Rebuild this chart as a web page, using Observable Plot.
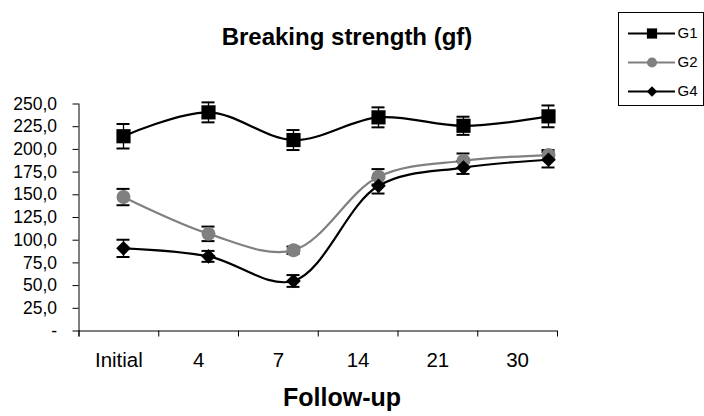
<!DOCTYPE html>
<html>
<head>
<meta charset="utf-8">
<script src="https://cdn.jsdelivr.net/npm/d3@7"></script>
<script src="https://cdn.jsdelivr.net/npm/@observablehq/plot@0.6"></script>
<style>
  html, body { margin: 0; padding: 0; background: #fff; }
  #chart { position: relative; width: 704px; height: 416px; font-family: "Liberation Sans", Arial, sans-serif; overflow: hidden; }
  #chart > * { position: absolute; }
  .title { left: 0; width: 694px; top: 23px; text-align: center; font-weight: bold; font-size: 24px; color: #000; }
  .xtitle { left: 0; width: 684px; top: 383px; text-align: center; font-weight: bold; font-size: 25px; color: #000; }
  #legend { left: 618px; top: 12px; width: 84px; height: 92px; border: 1px solid #000; }
</style>
</head>
<body>
<div id="chart">
  <div class="title">Breaking strength (gf)</div>
  <div class="xtitle">Follow-up</div>
</div>
<script>
const categories = ["Initial", "4", "7", "14", "21", "30"];
const groups = ["G1", "G2", "G4"];
const g1 = [214.5, 240.8, 210.3, 235.3, 226.0, 236.4];
const g2 = [147.5, 107.0, 89.0, 169.8, 187.5, 193.8];
const g4 = [91.0, 82.2, 55.1, 159.9, 180.0, 188.6];
const g1err = [13.5, 11, 11, 11, 10, 12];
const g2err = [9, 8, 4, 8.5, 8, 5.5];
const g4err = [9.5, 6, 6.5, 8.5, 7, 8.5];
const yTicks = [0, 25, 50, 75, 100, 125, 150, 175, 200, 225, 250];

const colors = {G1: "#000000", G2: "#808080", G4: "#000000"};
const symbols = {G1: "square", G2: "circle", G4: "diamond2"};
const radii = {G1: 8, G2: 7, G4: 6.6};

const series = {G1: [g1, g1err], G2: [g2, g2err], G4: [g4, g4err]};
const rows = [];
for (const g of groups) {
  const [vals, errs] = series[g];
  categories.forEach((c, i) => rows.push({group: g, cat: c, value: vals[i], err: errs[i]}));
}

const W = 704, H = 416;
const margins = {marginLeft: 78.5, marginRight: W - 557, marginTop: 103.5, marginBottom: H - 330.5};
const yScale = {domain: [0, 250], range: [330.5, 103.5]};
const fmt = d => d === 0 ? "-" : d.toFixed(1).replace(".", ",");

// Axes plot
const axes = Plot.plot({
  width: W, height: H, ...margins,
  x: {type: "linear", domain: [0, 6], range: [78.5, 557]},
  y: yScale,
  style: {fontFamily: "Liberation Sans, Arial, sans-serif", color: "#000", background: "transparent"},
  marks: [
    Plot.axisY({ticks: yTicks, tickSize: 6, tickPadding: 16, tickFormat: fmt, fontSize: 17.5, label: null}),
    Plot.axisX({ticks: d3.range(0, 7), tickSize: 6, tickFormat: () => "", label: null}),
    Plot.axisX({ticks: categories.map((c, i) => i + 0.5), tickSize: 0, tickPadding: 21, tickFormat: d => categories[d - 0.5], fontSize: 20.5, label: null}),
    Plot.ruleY([0], {stroke: "#000"}),
    Plot.ruleX([0], {stroke: "#000", insetBottom: -6})
  ]
});
axes.style.left = "0px"; axes.style.top = "0px";
document.getElementById("chart").appendChild(axes);

// Data plot
const data = Plot.plot({
  width: W, height: H, ...margins,
  x: {type: "point", domain: categories, range: [121.7, 549], padding: 0},
  y: yScale,
  axis: null,
  style: {background: "transparent"},
  marks: [
    ...groups.map(g => Plot.line(rows.filter(r => r.group === g), {x: "cat", y: "value", stroke: colors[g], strokeWidth: 2.2, curve: "catmull-rom"})),
    Plot.ruleX(rows, {x: "cat", y1: d => d.value - d.err, y2: d => d.value + d.err, stroke: "#000", strokeWidth: 1.3}),
    Plot.ruleY(rows, {x1: "cat", x2: "cat", y: d => d.value - d.err, stroke: "#000", strokeWidth: 2, insetLeft: -6.5, insetRight: -6.5}),
    Plot.ruleY(rows, {x1: "cat", x2: "cat", y: d => d.value + d.err, stroke: "#000", strokeWidth: 2, insetLeft: -6.5, insetRight: -6.5}),
    ...groups.map(g => Plot.dot(rows.filter(r => r.group === g), {x: "cat", y: "value", fill: colors[g], stroke: "none", symbol: symbols[g], r: radii[g]}))
  ]
});
data.style.left = "0px"; data.style.top = "0px";
document.getElementById("chart").appendChild(data);

// Legend plot
const legendDiv = document.createElement("div");
legendDiv.id = "legend";
document.getElementById("chart").appendChild(legendDiv);
const legend = Plot.plot({
  width: 84, height: 92,
  marginLeft: 9, marginRight: 28, marginTop: 19.5, marginBottom: 14,
  x: {type: "linear", domain: [0, 1], range: [9, 56]},
  y: {type: "point", domain: groups, range: [19.5, 78.5], padding: 0},
  axis: null,
  style: {fontFamily: "Liberation Sans, Arial, sans-serif", background: "transparent", overflow: "visible"},
  marks: [
    ...groups.map(g => Plot.ruleY([g], {y: d => d, x1: 0, x2: 1, stroke: colors[g], strokeWidth: 2})),
    ...groups.map(g => Plot.dot([g], {x: 0.5, y: d => d, fill: colors[g], symbol: symbols[g], r: radii[g] * 0.72, stroke: "none"})),
    Plot.text(groups, {x: 1, y: d => d, text: d => d, textAnchor: "start", dx: 2, fontSize: 15, fill: "#000"})
  ]
});
legend.style.position = "absolute"; legend.style.left = "0px"; legend.style.top = "0px";
legendDiv.appendChild(legend);
</script>
</body>
</html>
